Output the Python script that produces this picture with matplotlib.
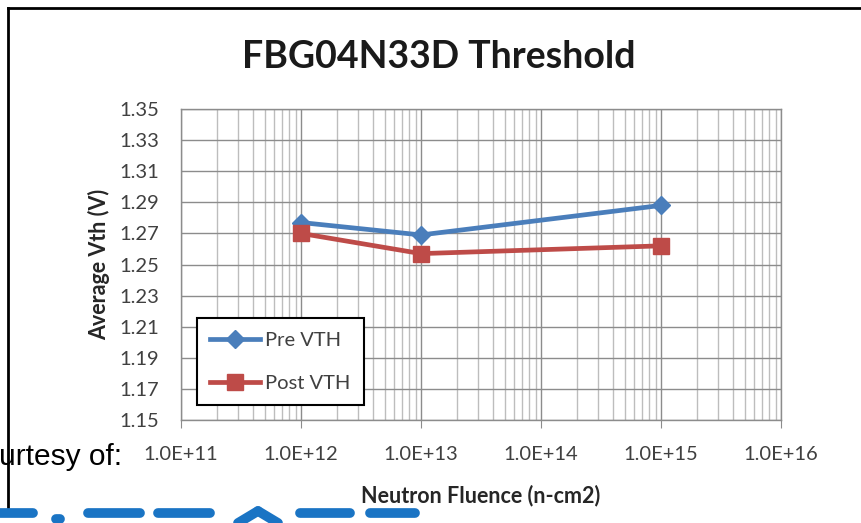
import matplotlib
matplotlib.use("Agg")
import matplotlib.pyplot as plt
from matplotlib.lines import Line2D
from matplotlib.ticker import LogLocator, FixedLocator, NullFormatter

# ---- data ----
fluence = [1e12, 1e13, 1e15]
pre_vth = [1.277, 1.269, 1.288]
post_vth = [1.270, 1.257, 1.262]
series_names = ["Pre VTH", "Post VTH"]
y_ticks = [1.15, 1.17, 1.19, 1.21, 1.23, 1.25, 1.27, 1.29, 1.31, 1.33, 1.35]
x_ticks = [1e11, 1e12, 1e13, 1e14, 1e15, 1e16]
x_tick_labels = ["1.0E+11", "1.0E+12", "1.0E+13", "1.0E+14", "1.0E+15", "1.0E+16"]

W, H = 861, 523
fig = plt.figure(figsize=(W / 100, H / 100), dpi=100)
plt.rcParams['font.family'] = ['Lato', 'DejaVu Sans']

def fx(px):
    return px / W

def fy(py):
    return 1 - py / H

ax_l, ax_r, ax_t, ax_b = 181, 781, 109, 420
ax = fig.add_axes([fx(ax_l), fy(ax_b), fx(ax_r) - fx(ax_l), fy(ax_t) - fy(ax_b)])
ax.set_xscale('log')
ax.set_xlim(1e11, 1e16)
ax.set_ylim(1.15, 1.35)

ax.xaxis.set_major_locator(FixedLocator(x_ticks))
ax.set_xticklabels(x_tick_labels)
ax.xaxis.set_minor_locator(LogLocator(base=10, subs=range(2, 10), numticks=20))
ax.xaxis.set_minor_formatter(NullFormatter())
ax.set_yticks(y_ticks)
ax.set_yticklabels([f"{v:.2f}" for v in y_ticks])

ax.grid(True, which='major', axis='both', color='#8c8c8c', linewidth=1.0)
ax.grid(True, which='minor', axis='x', color='#bdbdbd', linewidth=1.0)
ax.set_axisbelow(True)
for s in ax.spines.values():
    s.set_color('#8c8c8c')
    s.set_linewidth(1.0)

ax.tick_params(axis='x', which='major', length=6, color='#8c8c8c', labelsize=14.5,
               labelcolor='#404040', pad=13)
ax.tick_params(axis='x', which='minor', length=0)
ax.tick_params(axis='y', which='major', length=0, labelsize=14.5,
               labelcolor='#404040', pad=16)

blue = '#4a7ebb'
red = '#be4b48'
ax.plot(fluence, pre_vth, color=blue, linewidth=3.4, marker='D', markersize=9,
        markerfacecolor=blue, markeredgecolor=blue, label=series_names[0], zorder=3)
ax.plot(fluence, post_vth, color=red, linewidth=3.4, marker='s', markersize=12,
        markerfacecolor=red, markeredgecolor=red, label=series_names[1], zorder=3)

aw = ax_r - ax_l
ah = ax_b - ax_t
leg = ax.legend(loc='lower left',
                bbox_to_anchor=((197 - ax_l) / aw, (ax_b - 405) / ah),
                frameon=True, fancybox=False, edgecolor='black', framealpha=1,
                fontsize=14.5, labelcolor='#404040', handlelength=2.5,
                borderpad=0.65, labelspacing=1.3, handletextpad=0.25,
                borderaxespad=0)
leg.get_frame().set_linewidth(1.5)

ax.set_xlabel("Neutron Fluence (n-cm2)", fontsize=15.5, fontweight='bold',
              color='#262626', labelpad=15)
ax.set_ylabel("Average Vth (V)", fontsize=15.5, fontweight='bold',
              color='#262626', labelpad=6)

fig.text(fx(439), fy(57), "FBG04N33D Threshold", ha='center', va='center',
         fontsize=27, fontweight='bold', color='#1a1a1a')

# frame lines
fig.add_artist(Line2D([fx(8), fx(8)], [fy(8), fy(507)], color='black', linewidth=2))
fig.add_artist(Line2D([fx(8), fx(861)], [fy(8), fy(8)], color='black', linewidth=2))

fig.text(fx(-1), fy(457), "urtesy of:", ha='left', va='center', fontsize=21.5,
         family=['Liberation Sans', 'DejaVu Sans'], color='black')

# partial logo at bottom
logo = '#1a74c4'
for seg in [([0, 33], [513, 513]), ([56, 60], [519, 519]), ([88, 140], [513, 513]),
            ([158, 210], [513, 513]), ([238, 258], [523, 511]), ([258, 278], [511, 523]),
            ([300, 350], [513, 513]), ([370, 415], [513, 513])]:
    fig.add_artist(Line2D([fx(p) for p in seg[0]], [fy(p) for p in seg[1]],
                          color=logo, linewidth=7, solid_capstyle='round'))

fig.savefig("out.png", dpi=100)
